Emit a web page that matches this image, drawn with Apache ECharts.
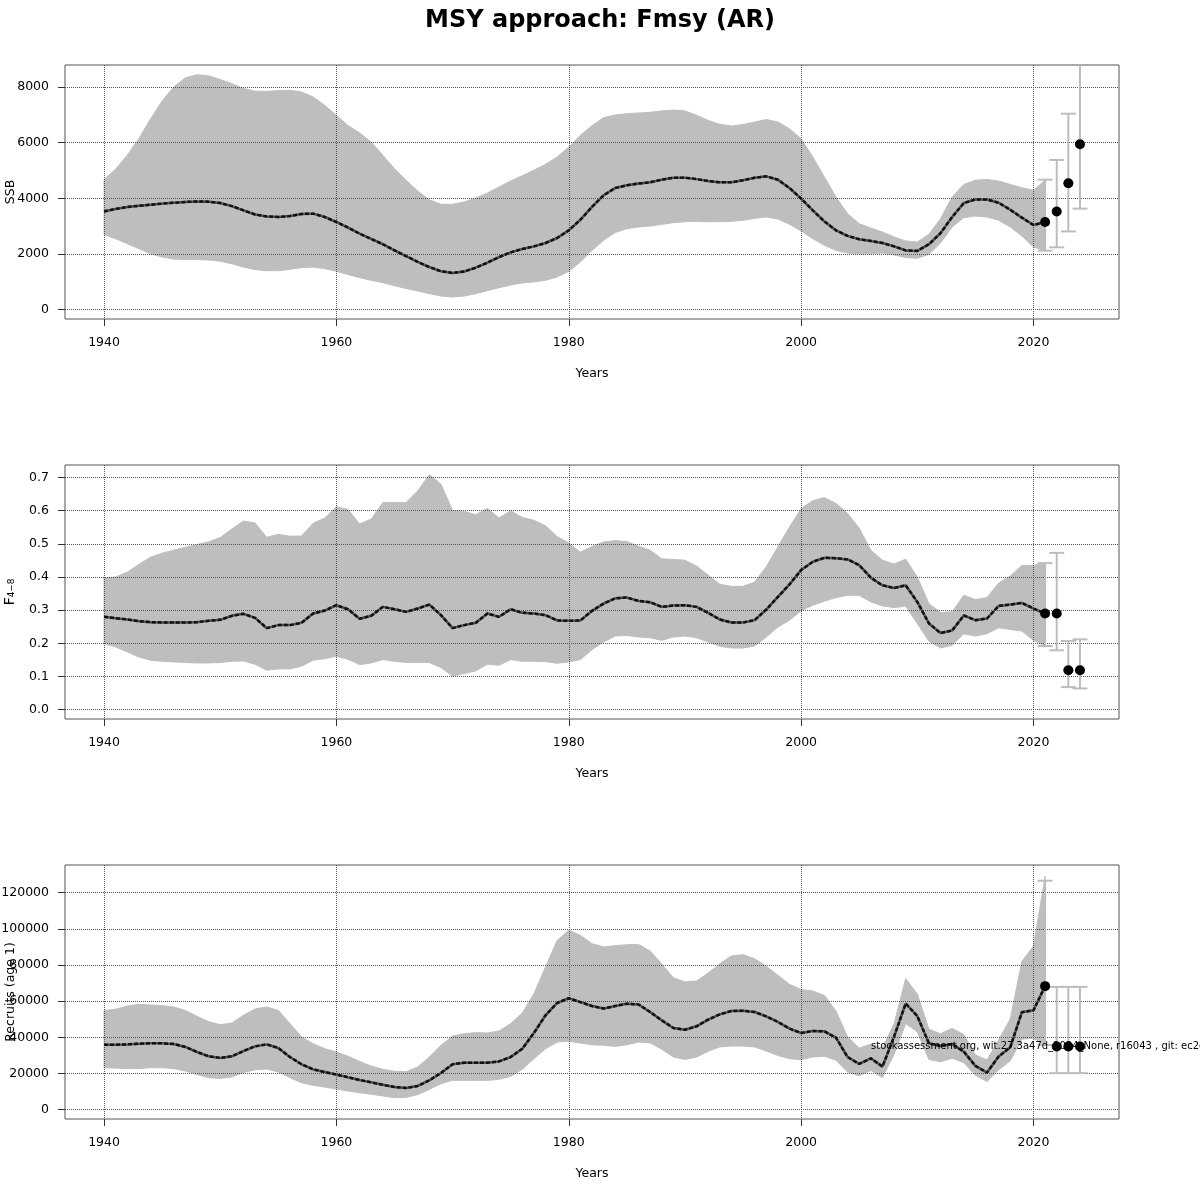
<!DOCTYPE html>
<html><head><meta charset="utf-8">
<script src="https://cdn.jsdelivr.net/npm/echarts@6/dist/echarts.min.js"></script>
<style>html,body{margin:0;padding:0;background:#fff}#c{width:1200px;height:1200px}</style>
</head><body><div id="c"></div>
<script>
const years = [1940,1941,1942,1943,1944,1945,1946,1947,1948,1949,1950,1951,1952,1953,1954,1955,1956,1957,1958,1959,
1960,1961,1962,1963,1964,1965,1966,1967,1968,1969,1970,1971,1972,1973,1974,1975,1976,1977,1978,1979,
1980,1981,1982,1983,1984,1985,1986,1987,1988,1989,1990,1991,1992,1993,1994,1995,1996,1997,1998,1999,
2000,2001,2002,2003,2004,2005,2006,2007,2008,2009,2010,2011,2012,2013,2014,2015,2016,2017,2018,2019,2020,2021];

const ssbMid = [3530,3620,3690,3730,3770,3810,3840,3870,3890,3880,3830,3720,3570,3420,3350,3330,3365,3440,3450,3330,
3150,2950,2730,2540,2350,2130,1920,1720,1530,1380,1320,1370,1510,1690,1890,2060,2180,2275,2395,2575,
2850,3230,3690,4110,4370,4470,4530,4575,4670,4740,4740,4690,4620,4575,4575,4650,4740,4790,4670,4370,
3990,3570,3170,2850,2650,2530,2470,2395,2275,2130,2110,2350,2750,3330,3830,3960,3960,3840,3590,3305,3040,3150];
const ssbHi = [4670,5050,5550,6150,6850,7500,8000,8330,8440,8400,8270,8120,7950,7850,7840,7870,7880,7820,7640,7340,
6980,6620,6350,6020,5545,5065,4650,4260,3950,3785,3785,3870,4010,4190,4410,4620,4815,5010,5220,5485,
5845,6260,6610,6900,6995,7040,7065,7090,7140,7170,7140,6985,6800,6660,6600,6650,6740,6830,6740,6500,
6140,5490,4770,4050,3450,3090,2930,2790,2610,2470,2430,2710,3270,4050,4500,4650,4680,4620,4500,4380,4290,4650];
const ssbLo = [2695,2550,2370,2190,2010,1890,1820,1800,1800,1785,1740,1650,1530,1440,1400,1400,1450,1510,1530,1475,
1380,1260,1150,1055,970,860,765,670,575,490,455,490,575,680,790,885,960,995,1055,1175,
1380,1710,2130,2490,2770,2910,2970,3005,3065,3125,3160,3175,3160,3160,3175,3210,3280,3330,3260,3065,
2830,2550,2310,2130,2035,2000,2010,2035,1965,1870,1845,1990,2395,2970,3305,3365,3330,3210,2970,2650,2250,2120];

const fMid = [0.280,0.276,0.272,0.267,0.264,0.263,0.263,0.263,0.264,0.268,0.271,0.283,0.289,0.277,0.246,0.255,0.255,0.262,0.290,0.299,
0.315,0.303,0.274,0.283,0.310,0.303,0.295,0.305,0.317,0.285,0.246,0.255,0.262,0.290,0.280,0.303,0.292,0.290,0.285,0.269,
0.268,0.269,0.298,0.320,0.336,0.338,0.328,0.324,0.310,0.314,0.315,0.310,0.292,0.272,0.263,0.263,0.270,0.302,0.340,0.378,
0.421,0.446,0.458,0.457,0.453,0.436,0.398,0.375,0.367,0.375,0.325,0.260,0.231,0.239,0.284,0.270,0.275,0.313,0.317,0.322,0.305,0.290];
const fHi = [0.398,0.400,0.415,0.438,0.460,0.472,0.481,0.490,0.498,0.506,0.519,0.545,0.569,0.563,0.520,0.529,0.523,0.524,0.562,0.578,
0.612,0.604,0.560,0.575,0.625,0.625,0.625,0.660,0.709,0.680,0.601,0.598,0.588,0.607,0.578,0.600,0.580,0.571,0.555,0.522,
0.503,0.475,0.492,0.506,0.510,0.507,0.493,0.481,0.455,0.453,0.451,0.433,0.406,0.378,0.372,0.372,0.385,0.431,0.491,0.551,
0.607,0.630,0.640,0.622,0.592,0.547,0.481,0.451,0.439,0.454,0.400,0.320,0.293,0.295,0.345,0.332,0.338,0.382,0.403,0.435,0.435,0.442];
const fLo = [0.199,0.189,0.174,0.159,0.149,0.146,0.144,0.142,0.141,0.141,0.142,0.146,0.147,0.137,0.119,0.123,0.123,0.131,0.149,0.154,
0.161,0.152,0.136,0.141,0.151,0.146,0.142,0.143,0.142,0.127,0.101,0.109,0.117,0.137,0.134,0.151,0.146,0.146,0.145,0.140,
0.144,0.151,0.181,0.204,0.222,0.224,0.219,0.217,0.209,0.219,0.222,0.217,0.204,0.191,0.186,0.186,0.192,0.219,0.249,0.270,
0.298,0.315,0.327,0.338,0.345,0.345,0.325,0.313,0.308,0.312,0.260,0.206,0.186,0.194,0.229,0.222,0.229,0.247,0.242,0.237,0.209,0.192];

const recMid = [35900,35900,36100,36500,36700,36700,36300,34700,31900,29500,28600,29500,32400,35000,36100,34100,29100,25100,22300,20800,
19400,17900,16400,15100,13800,12500,12000,13100,16200,20300,25100,26000,26000,26000,26700,29100,33700,42400,52200,59000,
61600,59500,57300,55900,57300,58600,58200,54000,49400,45200,44200,46100,49800,52700,54600,54700,54000,51600,48500,44800,
42400,43500,43300,39800,29100,25300,28400,23800,40400,58700,51700,36700,35200,36300,32100,24200,20500,29400,34500,53900,55000,68300];
const recHi = [54900,55500,57300,58200,57900,57500,56800,54900,51600,48700,47000,47900,52200,55700,56800,54900,47600,40200,36500,33700,
31900,29500,26700,24100,22300,21200,21000,23600,29100,35600,40700,42000,42600,42400,43500,47600,53500,64100,78900,93600,
99200,96400,91800,90000,90700,91200,91400,87700,80700,73000,70600,71200,75600,80700,85000,85700,83500,79300,74300,69300,
66400,65600,63200,54600,40200,34000,36300,34000,47500,72500,64000,44500,42000,45000,41500,30200,27500,38500,50200,82000,90500,129000];
const recLo = [23200,23000,22700,22700,23200,23200,22700,21400,19400,17700,17300,18100,20500,22100,22500,20800,17700,14900,13500,12500,
11400,10300,9400,8500,7600,6600,6800,8300,11200,14400,16200,16200,16200,16200,16800,18400,22300,28200,33700,37400,
37800,36900,35900,35600,35000,35900,37400,37000,33400,29100,27800,29100,32300,34700,35200,35200,34700,32400,30000,28200,
27600,29100,29500,27300,20800,18700,21700,17700,30600,47600,43000,27800,26500,28500,26000,19000,15600,22000,27000,39000,39500,35800];

const fcYears = [2021,2022,2023,2024];
const ssbFc = [3150,3530,4540,5940];
const ssbFcLo = [2120,2240,2810,3630];
const ssbFcHi = [4670,5380,7040,9500];
const fFc = [0.290,0.290,0.119,0.119];
const fFcLo = [0.192,0.179,0.068,0.064];
const fFcHi = [0.442,0.473,0.207,0.212];
const recFc = [68300,34900,34900,34900];
const recFcLo = [35800,20200,20200,20200];
const recFcHi = [126600,67900,67900,67900];

const xTicks = [1940,1960,1980,2000,2020];
const ssbTicks = [0,2000,4000,6000,8000];
const fTicks = [0,0.1,0.2,0.3,0.4,0.5,0.6,0.7];
const recTicks = [0,20000,40000,60000,80000,100000,120000];

const titleText = 'MSY approach: Fmsy (AR)';
const footText = 'stockassessment.org, wit.27.3a47d_2024_None, r16043 , git: ec2c2';

const FONT = 'DejaVu Sans';
const tops = [65, 465, 865];
const H = 254;
const yRanges = [[-335, 8790], [-0.0282, 0.738], [-5160, 135300]];
const yNames = ['SSB', 'F\u2084\u208B\u2088', 'Recruits (age 1)'];
const yTicks = [ssbTicks, fTicks, recTicks];
const yFmt = [v => String(v), v => v.toFixed(1), v => String(v)];

const grids = [], xAxes = [], yAxes = [], series = [];
const gridLine = {show: true, lineStyle: {type: 'dotted', color: '#555', width: 1}};

tops.forEach((t, i) => {
  grids.push({left: 65, right: 81, top: t, height: H, show: true, borderColor: '#555', borderWidth: 1,
    backgroundColor: 'transparent', containLabel: false, outerBoundsMode: 'none'});
  xAxes.push({
    type: 'value', gridIndex: i, min: 1936.64, max: 2027.36, z: 3,
    axisLine: {show: false, onZero: false},
    axisTick: {show: true, length: 7, customValues: xTicks, lineStyle: {color: '#333'}},
    axisLabel: {customValues: xTicks, margin: 17, color: '#000', fontSize: 12.5, fontFamily: FONT, formatter: v => String(v)},
    splitLine: gridLine,
    name: 'Years', nameLocation: 'middle', nameGap: 48, nameMoveOverlap: false,
    nameTextStyle: {color: '#000', fontSize: 12.5, fontFamily: FONT}
  });
  yAxes.push({
    type: 'value', gridIndex: i, min: yRanges[i][0], max: yRanges[i][1], z: 3,
    axisLine: {show: false, onZero: false},
    axisTick: {show: true, length: 7, customValues: yTicks[i], lineStyle: {color: '#333'}},
    axisLabel: {customValues: yTicks[i], margin: 16, color: '#000', fontSize: 12.5, fontFamily: FONT, formatter: yFmt[i]},
    splitLine: gridLine,
    name: yNames[i], nameLocation: 'middle', nameGap: 48, nameRotate: 90, nameMoveOverlap: false,
    nameTextStyle: {color: '#000', fontSize: i === 1 ? 14 : 12.5, fontFamily: FONT}
  });
});

const panels = [
  {mid: ssbMid, lo: ssbLo, hi: ssbHi, fc: ssbFc, fcLo: ssbFcLo, fcHi: ssbFcHi},
  {mid: fMid, lo: fLo, hi: fHi, fc: fFc, fcLo: fFcLo, fcHi: fFcHi},
  {mid: recMid, lo: recLo, hi: recHi, fc: recFc, fcLo: recFcLo, fcHi: recFcHi}
];

panels.forEach((p, i) => {
  // confidence band
  series.push({
    type: 'custom', xAxisIndex: i, yAxisIndex: i, z: 1, silent: true, clip: true,
    data: years.map((y, k) => [y, p.lo[k], p.hi[k]]),
    renderItem: function (params, api) {
      if (params.dataIndex !== 0) return null;
      const pts = [];
      for (let k = 0; k < years.length; k++) pts.push(api.coord([years[k], p.hi[k]]));
      for (let k = years.length - 1; k >= 0; k--) pts.push(api.coord([years[k], p.lo[k]]));
      return {type: 'polygon', shape: {points: pts}, style: {fill: '#bebebe', stroke: '#bebebe', lineWidth: 1}};
    }
  });
  // median line: dark under-line + black dashes
  const lineData = years.map((y, k) => [y, p.mid[k]]);
  series.push({type: 'line', xAxisIndex: i, yAxisIndex: i, z: 4, data: lineData, showSymbol: false, silent: true,
    lineStyle: {color: '#555', width: 2.5}});
  series.push({type: 'line', xAxisIndex: i, yAxisIndex: i, z: 5, data: lineData, showSymbol: false, silent: true,
    lineStyle: {color: '#111', width: 2.5, type: [4, 2]}});
  // forecast error bars
  series.push({
    type: 'custom', xAxisIndex: i, yAxisIndex: i, z: 6, silent: true, clip: true,
    data: fcYears.map((y, k) => [y, p.fcLo[k], p.fcHi[k]]),
    renderItem: function (params, api) {
      const x = api.value(0);
      const a = api.coord([x, api.value(1)]), b = api.coord([x, api.value(2)]);
      const w = 7.5;
      const st = {stroke: '#bdbdbd', lineWidth: 2};
      return {type: 'group', children: [
        {type: 'line', shape: {x1: a[0], y1: a[1], x2: b[0], y2: b[1]}, style: st},
        {type: 'line', shape: {x1: a[0] - w, y1: a[1], x2: a[0] + w, y2: a[1]}, style: st},
        {type: 'line', shape: {x1: b[0] - w, y1: b[1], x2: b[0] + w, y2: b[1]}, style: st}
      ]};
    }
  });
  // forecast points
  series.push({type: 'scatter', xAxisIndex: i, yAxisIndex: i, z: 7, silent: true,
    data: fcYears.map((y, k) => [y, p.fc[k]]), symbolSize: 10, itemStyle: {color: '#000', opacity: 1}});
});

const chart = echarts.init(document.getElementById('c'), null, {renderer: 'canvas'});
chart.setOption({
  animation: false,
  backgroundColor: '#fff',
  title: {text: titleText, left: 'center', top: 4,
    textStyle: {fontFamily: FONT, fontWeight: 'bold', fontSize: 24, color: '#000'}},
  grid: grids, xAxis: xAxes, yAxis: yAxes, series: series,
  graphic: [{type: 'text', left: 871, top: 1041, z: 10, silent: true,
    style: {text: footText, fill: '#000', font: '10px "DejaVu Sans"'}}]
});
</script></body></html>
